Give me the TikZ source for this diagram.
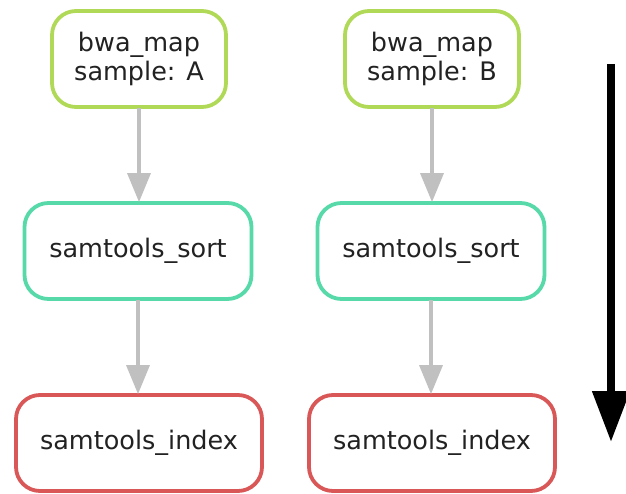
\documentclass[tikz,border=0pt]{standalone}
\usepackage{fontspec}
\setmainfont{DejaVu Sans}
\usetikzlibrary{arrows.meta}
\definecolor{cbwa}{HTML}{B0D957}
\definecolor{csort}{HTML}{57D9A9}
\definecolor{cindex}{HTML}{D95757}
\definecolor{cedge}{HTML}{C0C0C0}
\definecolor{ctext}{HTML}{222222}
\tikzset{
  job/.style={draw, line width=3.8pt, rounded corners=24pt, fill=white, inner sep=0pt,
    align=center, text=ctext, font=\fontsize{25.5}{29}\selectfont, minimum height=96pt},
  bwa/.style={job, draw=cbwa, minimum width=174pt},
  sortjob/.style={job, draw=csort, minimum width=227pt},
  indexjob/.style={job, draw=cindex, minimum width=246pt},
  dep/.style={draw=cedge, line width=3.5pt, -{Triangle[length=29pt,width=23pt]}, shorten <=-1pt, shorten >=-1pt},
}
\begin{document}
\begin{tikzpicture}[x=1pt,y=-1pt]
\useasboundingbox (0,0) rectangle (626,494);
\node[bwa] (bA) at (139,59) {bwa\_map\\sample: A};
\node[bwa] (bB) at (432,59) {bwa\_map\\sample: B};
\node[sortjob] (sA) at (138,251) {samtools\_sort};
\node[sortjob] (sB) at (431,251) {samtools\_sort};
\node[indexjob] (iA) at (139,443) {samtools\_index};
\node[indexjob] (iB) at (432,443) {samtools\_index};
\draw[dep] (bA.south) -- (bA.south |- sA.north);
\draw[dep] (bB.south) -- (bB.south |- sB.north);
\draw[dep] (sA.south) -- (sA.south |- iA.north);
\draw[dep] (sB.south) -- (sB.south |- iB.north);
\coordinate (ftop) at (611,64);
\coordinate (fbot) at (611,442);
\draw[line width=8pt, -{Triangle[length=51pt,width=36pt]}] (ftop) -- (fbot);
\end{tikzpicture}
\end{document}
